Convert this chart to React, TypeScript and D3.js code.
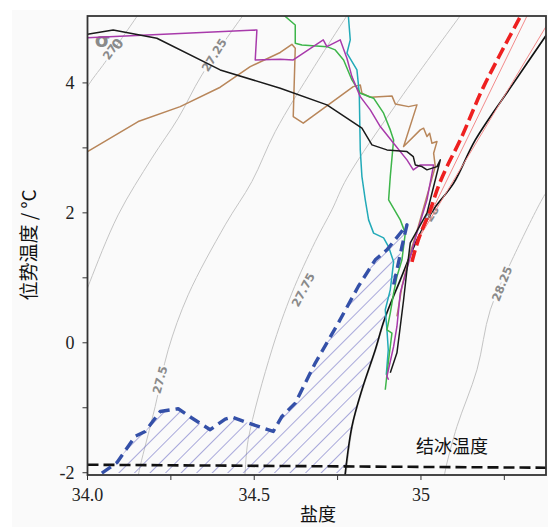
import React, { useEffect, useRef } from "react";
import * as d3 from "d3";

const W = 548;
const H = 527;
const margin = { top: 16, right: 2, bottom: 52, left: 87.5 };

// axis ticks
const salTicks = [34.0, 34.5, 35];
const salTickLabels = ["34.0", "34.5", "35"];
const salMinor = [34.25, 34.75, 35.25];
const tempTicks = [-2, 0, 2, 4];
const tempTickLabels = ["-2", "0", "2", "4"];
const tempMinor = [-1, 1, 3];

// sigma-0 isopycnals
const c27S = [33.99, 34.0, 34.053, 34.152];
const c27T = [3.8, 3.94, 4.32, 5.05];
const c2725S = [33.99, 34.0075, 34.092, 34.193, 34.272, 34.343, 34.468];
const c2725T = [0.7, 0.943, 1.969, 2.842, 3.457, 4.123, 5.05];
const c275S = [34.15, 34.158, 34.203, 34.242, 34.302, 34.413, 34.493, 34.563, 34.68, 34.78];
const c275T = [-2.1, -1.9, -0.98, -0.108, 0.738, 1.815, 2.482, 3.251, 4.25, 5.05];
const c2775S = [34.47, 34.472, 34.482, 34.553, 34.613, 34.683, 34.733, 34.778, 34.935, 35.12];
const c2775T = [-2.1, -2.03, -1.49, -0.108, 0.765, 1.558, 2.046, 2.534, 3.738, 5.05];
const c28S = [34.774, 34.795, 34.825, 34.865, 34.892, 34.94, 34.99, 35.039, 35.1, 35.165, 35.28, 35.378];
const c28T = [-2.1, -1.288, -0.723, -0.108, 0.354, 0.969, 1.585, 2.046, 2.457, 3.123, 4.0, 4.738];
const c2825S = [35.068, 35.078, 35.108, 35.168, 35.208, 35.278, 35.368, 35.39];
const c2825T = [-2.1, -1.85, -1.288, -0.415, 0.508, 1.328, 2.251, 2.42];

const isoLabels = ["27", "27.25", "27.5", "27.75", "28", "28.25"];
const isoLabelS = [34.0675, 34.38, 34.2175, 34.647, 35.033, 35.243];
const isoLabelT = [4.477, 4.43, -0.57, 0.815, 1.985, 0.908];
const isoLabelRot = [-55, -58, -75, -62, -58, -68];

// freezing temperature
const freezeS = [34.0, 35.375];
const freezeT = [-1.877, -1.923];

// black solid boundary curve
const boundS = [34.772, 34.793, 34.823, 34.863, 34.89, 34.938, 34.988, 35.037, 35.098, 35.163, 35.278, 35.376];
const boundT = [-2.05, -1.288, -0.723, -0.108, 0.354, 0.969, 1.585, 2.046, 2.457, 3.123, 4.0, 4.738];

// red dashed and pink thin lines
const redS = [34.973, 34.992, 35.028, 35.052, 35.078, 35.118, 35.188, 35.298];
const redT = [1.246, 1.585, 2.046, 2.405, 2.712, 3.123, 3.943, 5.02];
const pinkAS = [34.992, 35.318];
const pinkAT = [1.6, 5.03];
const pinkBS = [34.998, 35.376];
const pinkBT = [1.646, 4.877];

// blue dashed envelope
const blueS = [34.043, 34.088, 34.143, 34.173, 34.218, 34.272, 34.313, 34.368, 34.413, 34.433, 34.482, 34.557, 34.583, 34.623, 34.683, 34.752, 34.812, 34.863, 34.898, 34.958, 34.943, 34.928, 34.918];
const blueT = [-2.005, -1.846, -1.44, -1.365, -1.057, -1.015, -1.158, -1.338, -1.174, -1.143, -1.235, -1.365, -1.134, -0.928, -0.312, 0.303, 0.866, 1.277, 1.431, 1.815, 1.482, 1.123, 0.892];

// profiles
const blackS = [34.0, 34.077, 34.208, 34.398, 34.578, 34.718, 34.823, 34.853, 34.898, 34.958, 34.977, 34.983, 35.003, 35.018, 35.048, 35.058, 35.038, 35.018, 34.968, 34.958, 34.948, 34.938, 34.928, 34.908];
const blackT = [4.749, 4.815, 4.688, 4.2, 3.918, 3.662, 3.303, 3.046, 2.969, 2.943, 2.866, 2.738, 2.712, 2.662, 2.712, 2.815, 2.405, 1.995, 1.538, 1.123, 0.662, 0.251, -0.154, -0.462];
const magentaS = [34.0, 34.508, 34.503, 34.578, 34.617, 34.707, 34.718, 34.758, 34.778, 34.793, 34.818, 34.848, 34.878, 34.918, 34.958, 34.977, 34.998, 35.038, 35.018, 34.988, 34.938, 34.928, 34.918, 34.898, 34.903];
const magentaT = [4.697, 4.815, 4.354, 4.365, 4.354, 4.662, 4.558, 4.662, 4.38, 4.097, 3.789, 3.585, 3.328, 3.072, 2.815, 2.662, 2.738, 2.738, 2.2, 1.692, 0.769, 0.251, -0.057, -0.518, -0.569];
const brownS = [34.0, 34.152, 34.278, 34.398, 34.488, 34.578, 34.613, 34.623, 34.617, 34.647, 34.797, 34.818, 34.823, 34.848, 34.913, 34.923, 34.963, 34.988, 34.948, 34.998, 35.008, 35.018, 35.026, 35.033, 35.048, 35.038, 35.043, 34.992, 34.968, 34.943, 34.928];
const brownT = [2.943, 3.405, 3.635, 3.934, 4.251, 4.469, 4.595, 4.534, 3.482, 3.38, 3.943, 3.969, 3.842, 3.78, 3.8, 3.677, 3.635, 3.662, 3.02, 3.277, 3.303, 3.174, 3.226, 3.072, 3.097, 2.918, 2.712, 1.789, 1.385, 0.866, 0.405];
const greenS = [34.587, 34.623, 34.623, 34.643, 34.718, 34.743, 34.768, 34.793, 34.818, 34.858, 34.888, 34.908, 34.918, 34.908, 34.903, 34.938, 34.953, 34.943, 34.928, 34.918, 34.908, 34.898, 34.913, 34.908, 34.903, 34.893];
const greenT = [5.05, 4.892, 4.611, 4.585, 4.558, 4.508, 4.354, 4.046, 3.842, 3.765, 3.534, 3.277, 3.123, 2.558, 2.2, 1.892, 1.688, 1.277, 1.02, 0.765, 0.457, 0.2, 0.149, -0.057, -0.262, -0.723];
const cyanS = [34.782, 34.788, 34.778, 34.808, 34.815, 34.818, 34.823, 34.833, 34.843, 34.858, 34.888, 34.903, 34.918, 34.908, 34.893, 34.898, 34.902, 34.896];
const cyanT = [5.05, 4.662, 4.457, 4.2, 3.842, 2.969, 2.558, 2.2, 1.892, 1.688, 1.615, 1.477, 1.246, 0.815, 0.508, 0.2, -0.108, -0.492];

const zip = (s: number[], t: number[]): [number, number][] => s.map((v, i) => [v, t[i]]);

function TSDiagram() {
  const ref = useRef<SVGSVGElement>(null);

  useEffect(() => {
    const svg = d3.select(ref.current);
    svg.selectAll("*").remove();

    const x = d3.scaleLinear().domain([34, 35.375]).range([margin.left, W - margin.right]);
    const y = d3.scaleLinear().domain([-2.035, 5.03]).range([H - margin.bottom, margin.top]);
    const x0 = x.range()[0], x1 = x.range()[1];
    const y0 = y.range()[0], y1 = y.range()[1];

    svg.append("rect").attr("x", 12).attr("y", 10).attr("width", W - 12).attr("height", H - 10).attr("fill", "#fafafa");

    const defs = svg.append("defs");
    defs.append("clipPath").attr("id", "plotclip")
      .append("rect").attr("x", x0).attr("y", y1).attr("width", x1 - x0).attr("height", y0 - y1);
    const pat = defs.append("pattern").attr("id", "hatch")
      .attr("patternUnits", "userSpaceOnUse").attr("width", 11).attr("height", 11)
      .attr("patternTransform", "rotate(45)");
    pat.append("line").attr("x1", 0).attr("y1", 0).attr("x2", 0).attr("y2", 11)
      .attr("stroke", "#6464c0").attr("stroke-width", 1.1);

    const plot = svg.append("g").attr("clip-path", "url(#plotclip)");
    const line = d3.line<[number, number]>().x(d => x(d[0])).y(d => y(d[1]));
    const smooth = d3.line<[number, number]>().x(d => x(d[0])).y(d => y(d[1])).curve(d3.curveCatmullRom);

    // isopycnals
    [[c27S, c27T], [c2725S, c2725T], [c275S, c275T], [c2775S, c2775T], [c28S, c28T], [c2825S, c2825T]]
      .forEach(([s, t]) => {
        plot.append("path").attr("d", smooth(zip(s, t))).attr("fill", "none")
          .attr("stroke", "#c4c4c4").attr("stroke-width", 1);
      });
    isoLabels.forEach((lab, i) => {
      plot.append("text")
        .attr("transform", `translate(${x(isoLabelS[i])},${y(isoLabelT[i])}) rotate(${isoLabelRot[i]})`)
        .attr("text-anchor", "middle").attr("dominant-baseline", "central")
        .style("font-family", "'DejaVu Sans', sans-serif").style("font-size", "11.5px").style("font-weight", "bold")
        .style("paint-order", "stroke").attr("stroke", "#fafafa").attr("stroke-width", 4)
        .attr("fill", "#8a8a8a").text(lab);
    });
    plot.append("text").attr("x", x(34.045)).attr("y", y(4.56))
      .style("font-family", "'DejaVu Sans', sans-serif").style("font-size", "20px").style("font-weight", "bold")
      .attr("text-anchor", "middle").attr("fill", "#8a8a8a").text("σ");
    plot.append("text")
      .attr("transform", `translate(${x(34.09)},${y(4.6)}) rotate(-55)`)
      .attr("text-anchor", "middle").attr("dominant-baseline", "central")
      .style("font-family", "'DejaVu Sans', sans-serif").style("font-size", "14px").style("font-weight", "bold")
      .attr("fill", "#8a8a8a").text("0");

    // hatched envelope
    const blue = zip(blueS, blueT);
    const boundLow = zip(boundS, boundT).filter(d => d[1] < blueT[blueT.length - 1]).reverse();
    const poly = [...blue, ...boundLow, [boundS[0], blueT[0]] as [number, number]];
    plot.append("path").attr("d", line(poly) + "Z").attr("fill", "url(#hatch)").attr("stroke", "none");

    // freezing line
    plot.append("path").attr("d", line(zip(freezeS, freezeT))).attr("fill", "none")
      .attr("stroke", "#111").attr("stroke-width", 2.6).attr("stroke-dasharray", "11,5");

    // boundary curve
    plot.append("path").attr("d", smooth(zip(boundS, boundT))).attr("fill", "none")
      .attr("stroke", "#111").attr("stroke-width", 1.6);

    // pink and red
    [[pinkAS, pinkAT], [pinkBS, pinkBT]].forEach(([s, t]) => {
      plot.append("path").attr("d", line(zip(s, t))).attr("fill", "none")
        .attr("stroke", "#f28a8a").attr("stroke-width", 1);
    });
    plot.append("path").attr("d", smooth(zip(redS, redT))).attr("fill", "none")
      .attr("stroke", "#ee2020").attr("stroke-width", 3.6).attr("stroke-dasharray", "12,5");

    // profiles
    const profiles: [number[], number[], string][] = [
      [brownS, brownT, "#b8865a"],
      [cyanS, cyanT, "#22aab8"],
      [greenS, greenT, "#3db54a"],
      [magentaS, magentaT, "#a83aab"],
      [blackS, blackT, "#1a1a1a"],
    ];
    profiles.forEach(([s, t, c]) => {
      plot.append("path").attr("d", line(zip(s, t))).attr("fill", "none")
        .attr("stroke", c).attr("stroke-width", 1.5).attr("stroke-linejoin", "round");
    });

    // blue dashed
    plot.append("path").attr("d", line(blue)).attr("fill", "none")
      .attr("stroke", "#3450a8").attr("stroke-width", 3.4).attr("stroke-dasharray", "11,6")
      .attr("stroke-linejoin", "round");

    // frame
    svg.append("rect").attr("x", x0).attr("y", y1).attr("width", x1 - x0).attr("height", y0 - y1)
      .attr("fill", "none").attr("stroke", "#333").attr("stroke-width", 1.8);

    // axes
    const serif = "'Liberation Serif', 'Times New Roman', serif";
    const xAxis = svg.append("g").attr("transform", `translate(0,${y0})`);
    salTicks.concat(salMinor).forEach(v => {
      xAxis.append("line").attr("x1", x(v)).attr("x2", x(v)).attr("y1", 0).attr("y2", 5)
        .attr("stroke", "#333").attr("stroke-width", 1);
    });
    salTicks.forEach((v, i) => {
      xAxis.append("text").attr("x", x(v)).attr("y", 26).attr("text-anchor", "middle")
        .style("font-family", serif).style("font-size", "18px").attr("fill", "#222").text(salTickLabels[i]);
    });
    const yAxis = svg.append("g").attr("transform", `translate(${x0},0)`);
    tempTicks.concat(tempMinor).forEach(v => {
      yAxis.append("line").attr("x1", -5).attr("x2", 0).attr("y1", y(v)).attr("y2", y(v))
        .attr("stroke", "#333").attr("stroke-width", 1);
    });
    tempTicks.forEach((v, i) => {
      yAxis.append("text").attr("x", -13).attr("y", y(v)).attr("text-anchor", "end")
        .attr("dominant-baseline", "central")
        .style("font-family", serif).style("font-size", "18px").attr("fill", "#222").text(tempTickLabels[i]);
    });

    const cjk = "'Noto Sans CJK SC', sans-serif";
    svg.append("text").attr("x", 318).attr("y", 521).attr("text-anchor", "middle")
      .style("font-family", cjk).style("font-size", "18px").attr("fill", "#111").text("盐度");
    svg.append("text").attr("transform", `translate(36,245) rotate(-90)`).attr("text-anchor", "middle")
      .style("font-family", cjk).style("font-size", "19px").attr("fill", "#111").text("位势温度 / °C");
    svg.append("text").attr("x", 452).attr("y", 453).attr("text-anchor", "middle")
      .style("font-family", cjk).style("font-size", "18px").attr("fill", "#111").text("结冰温度");
  }, []);

  return <svg ref={ref} width={W} height={H} style={{ position: "absolute", left: 0, top: 0, background: "#fff" }} />;
}

export default function App() {
  return <TSDiagram />;
}
